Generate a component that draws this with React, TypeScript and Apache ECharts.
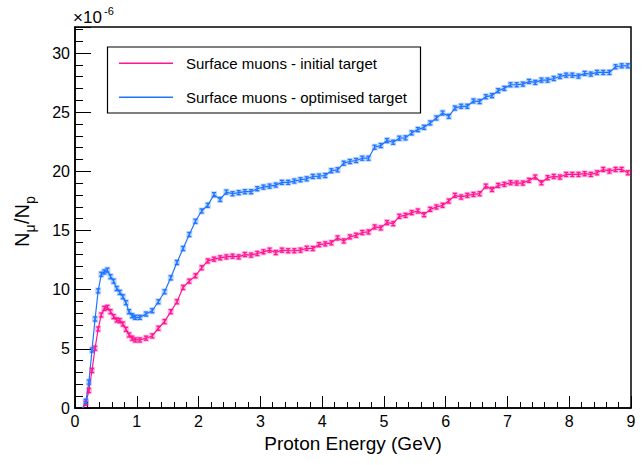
import React, { useEffect, useRef } from "react";
import * as echarts from "echarts";

// Proton energy bin centres (GeV): 0.05 GeV bins below 1 GeV, 0.1 GeV bins above
const energyLow = [
  0.125, 0.175, 0.225, 0.275, 0.325, 0.375, 0.425, 0.475, 0.525, 0.575,
  0.625, 0.675, 0.725, 0.775, 0.825, 0.875, 0.925, 0.975,
];
const energyHigh = [
  1.05, 1.15, 1.25, 1.35, 1.45, 1.55, 1.65, 1.75, 1.85, 1.95,
  2.05, 2.15, 2.25, 2.35, 2.45, 2.55, 2.65, 2.75, 2.85, 2.95,
  3.05, 3.15, 3.25, 3.35, 3.45, 3.55, 3.65, 3.75, 3.85, 3.95,
  4.05, 4.15, 4.25, 4.35, 4.45, 4.55, 4.65, 4.75, 4.85, 4.95,
  5.05, 5.15, 5.25, 5.35, 5.45, 5.55, 5.65, 5.75, 5.85, 5.95,
  6.05, 6.15, 6.25, 6.35, 6.45, 6.55, 6.65, 6.75, 6.85, 6.95,
  7.05, 7.15, 7.25, 7.35, 7.45, 7.55, 7.65, 7.75, 7.85, 7.95,
  8.05, 8.15, 8.25, 8.35, 8.45, 8.55, 8.65, 8.75, 8.85, 8.95,
];
const energies = [...energyLow, ...energyHigh];

// N_mu / N_p in units of 1e-6
const initialTarget = [
  0, 0.4, 1.48, 3.17, 5.05, 6.68, 7.86, 8.42, 8.5, 8.14,
  7.72, 7.44, 7.38, 7.1, 6.65, 6.17, 5.9, 5.75,
  5.75, 5.9, 6.09, 6.74, 7.3, 8.14, 8.98, 10.19, 10.72, 11.17,
  11.85, 12.43, 12.58, 12.69, 12.77, 12.83, 12.77, 12.97, 12.92, 13.06,
  13.2, 13.34, 13.14, 13.34, 13.29, 13.29, 13.34, 13.5, 13.48, 13.8,
  13.87, 13.96, 14.37, 14.12, 14.46, 14.6, 14.83, 14.88, 15.3, 15.22,
  15.67, 15.58, 16.2, 16.28, 16.51, 16.65, 16.34, 16.79, 16.99, 17.13,
  17.49, 17.97, 17.83, 17.97, 18.05, 18.11, 18.75, 18.47, 18.81, 18.9,
  19.04, 19.01, 19.01, 19.24, 19.52, 19.04, 19.46, 19.57, 19.52, 19.74,
  19.74, 19.74, 19.8, 19.74, 19.88, 20.16, 20.02, 20.16, 20.16, 19.88,
];
const optimisedTarget = [
  0, 0.56, 2.19, 4.9, 7.52, 9.9, 11.3, 11.5, 11.65, 11.1,
  10.72, 10.1, 9.77, 9.4, 8.9, 8.14, 7.8, 7.66,
  7.66, 7.94, 8.22, 8.98, 9.82, 11.0, 12.3, 13.48, 14.66, 15.78,
  16.65, 17.13, 18.03, 17.63, 18.25, 18.11, 18.2, 18.28, 18.28, 18.53,
  18.67, 18.75, 18.84, 19.07, 19.07, 19.18, 19.29, 19.37, 19.57, 19.6,
  19.65, 20.05, 20.13, 20.69, 20.83, 20.92, 21.11, 21.11, 22.04, 22.18,
  22.6, 22.46, 22.8, 22.83, 23.25, 23.53, 23.72, 24.09, 24.51, 24.93,
  24.65, 25.35, 25.5, 25.5, 25.95, 25.9, 26.31, 26.4, 26.82, 27.01,
  27.32, 27.32, 27.37, 27.6, 27.52, 27.71, 27.71, 27.85, 28.02, 28.13,
  28.13, 28.05, 28.28, 28.22, 28.36, 28.36, 28.36, 28.84, 28.92, 28.92,
];
// estimated statistical half-width of each error bar (1e-6)
const errorHalf = 0.17;

const seriesNames = [
  "Surface muons - initial target",
  "Surface muons - optimised target",
];
const PINK = "#ff1493";
const BLUE = "#1f74ff";
const FONT = "'Liberation Sans', Arial, Helvetica, sans-serif";

function pairs(vals: number[]) {
  return energies.map((e, i) => [e, vals[i]]);
}
function errData(vals: number[]) {
  return energies
    .map((e, i) => [e, vals[i], errorHalf])
    .filter((d) => d[1] > 0);
}

function errorBars(color: string, halo: string) {
  return (params: any, api: any) => {
    const x = api.value(0);
    const y = api.value(1);
    const e = api.value(2);
    const top = api.coord([x, y + e]);
    const bot = api.coord([x, y - e]);
    const c = api.coord([x, y]);
    const hw = 2;
    const st = { stroke: color, lineWidth: 1.3 };
    return {
      type: "group",
      children: [
        {
          type: "rect",
          shape: { x: c[0] - 3, y: top[1] - 1.5, width: 6, height: bot[1] - top[1] + 3 },
          style: { fill: halo },
        },
        { type: "line", shape: { x1: top[0], y1: top[1], x2: bot[0], y2: bot[1] }, style: st },
        { type: "line", shape: { x1: top[0] - hw, y1: top[1], x2: top[0] + hw, y2: top[1] }, style: st },
        { type: "line", shape: { x1: bot[0] - hw, y1: bot[1], x2: bot[0] + hw, y2: bot[1] }, style: st },
      ],
    };
  };
}

export default function App() {
  const ref = useRef<HTMLDivElement>(null);
  useEffect(() => {
    document.body.style.margin = "0";
    const chart = echarts.init(ref.current!, null, { renderer: "svg" });
    const option: any = {
      animation: false,
      backgroundColor: "#ffffff",
      grid: {
        left: 75,
        right: 13,
        top: 27,
        bottom: 57,
        show: true,
        borderColor: "#000",
        borderWidth: 1.5,
        backgroundColor: "transparent",
      },
      xAxis: {
        type: "value",
        min: 0,
        max: 9,
        interval: 1,
        name: "Proton Energy (GeV)",
        nameLocation: "middle",
        nameGap: 25,
        nameTextStyle: { fontFamily: FONT, fontSize: 19, color: "#000" },
        axisLine: { show: true, onZero: false, lineStyle: { color: "#000", width: 1.5 } },
        axisTick: { show: true, inside: true, length: 12, lineStyle: { color: "#000", width: 1 } },
        minorTick: { show: true, splitNumber: 5, length: 6, lineStyle: { color: "#000", width: 1 } },
        axisLabel: { fontFamily: FONT, fontSize: 16, color: "#000", margin: 5 },
        splitLine: { show: false },
      },
      yAxis: {
        type: "value",
        min: 0,
        max: 32.2,
        interval: 5,
        axisLine: { show: true, onZero: false, lineStyle: { color: "#000", width: 1.5 } },
        axisTick: { show: true, inside: true, length: 16, lineStyle: { color: "#000", width: 1 } },
        minorTick: { show: true, splitNumber: 5, length: 8, lineStyle: { color: "#000", width: 1 } },
        axisLabel: {
          fontFamily: FONT,
          fontSize: 16,
          color: "#000",
          margin: 5,
          formatter: (v: number) => (v % 5 === 0 ? String(v) : ""),
        },
        splitLine: { show: false },
      },
      series: [
        {
          name: seriesNames[0],
          type: "line",
          data: pairs(initialTarget),
          showSymbol: false,
          symbol: "none",
          lineStyle: { color: PINK, width: 1.2 },
          z: 3,
        },
        {
          name: seriesNames[1],
          type: "line",
          data: pairs(optimisedTarget),
          showSymbol: false,
          symbol: "none",
          lineStyle: { color: BLUE, width: 1.2 },
          z: 3,
        },
        {
          type: "custom",
          data: errData(initialTarget),
          renderItem: errorBars(PINK, "rgba(255,20,147,0.3)"),
          clip: true,
          z: 4,
        },
        {
          type: "custom",
          data: errData(optimisedTarget),
          renderItem: errorBars(BLUE, "rgba(31,116,255,0.3)"),
          clip: true,
          z: 4,
        },
      ],
      graphic: [
        // exponent label
        {
          type: "text",
          left: 73,
          top: 9,
          style: { text: "\u00d710", fontFamily: FONT, fontSize: 17, fill: "#000" },
        },
        {
          type: "text",
          left: 104,
          top: 5,
          style: { text: "-6", fontFamily: FONT, fontSize: 11, fill: "#000" },
        },
        // y-axis title N_mu / N_p
        {
          type: "group",
          x: 22,
          y: 247,
          rotation: Math.PI / 2,
          children: [
            { type: "text", x: 0, y: 0, style: { text: "N", fontFamily: FONT, fontSize: 20, fill: "#000", textVerticalAlign: "middle" } },
            { type: "text", x: 14.6, y: 8, style: { text: "\u03bc", fontFamily: FONT, fontSize: 14, fill: "#000", textVerticalAlign: "middle" } },
            { type: "text", x: 23, y: 0, style: { text: "/N", fontFamily: FONT, fontSize: 20, fill: "#000", textVerticalAlign: "middle" } },
            { type: "text", x: 43, y: 8, style: { text: "p", fontFamily: FONT, fontSize: 14, fill: "#000", textVerticalAlign: "middle" } },
          ],
        },
        // legend box
        {
          type: "rect",
          shape: { x: 107.5, y: 47, width: 313, height: 66 },
          style: { fill: "#fff", stroke: "#000", lineWidth: 1.2 },
          z: 10,
        },
        {
          type: "rect",
          shape: { x: 119, y: 62.5, width: 54, height: 1.6 },
          style: { fill: PINK },
          z: 11,
        },
        {
          type: "text",
          x: 186,
          y: 63.5,
          style: { text: seriesNames[0], fontFamily: FONT, fontSize: 15, fill: "#000", textVerticalAlign: "middle" },
          z: 11,
        },
        {
          type: "rect",
          shape: { x: 119, y: 96.5, width: 54, height: 1.6 },
          style: { fill: BLUE },
          z: 11,
        },
        {
          type: "text",
          x: 186,
          y: 97.5,
          style: { text: seriesNames[1], fontFamily: FONT, fontSize: 15, fill: "#000", textVerticalAlign: "middle" },
          z: 11,
        },
      ],
    };
    chart.setOption(option);
    return () => chart.dispose();
  }, []);
  return <div ref={ref} style={{ width: 644, height: 465 }} />;
}
